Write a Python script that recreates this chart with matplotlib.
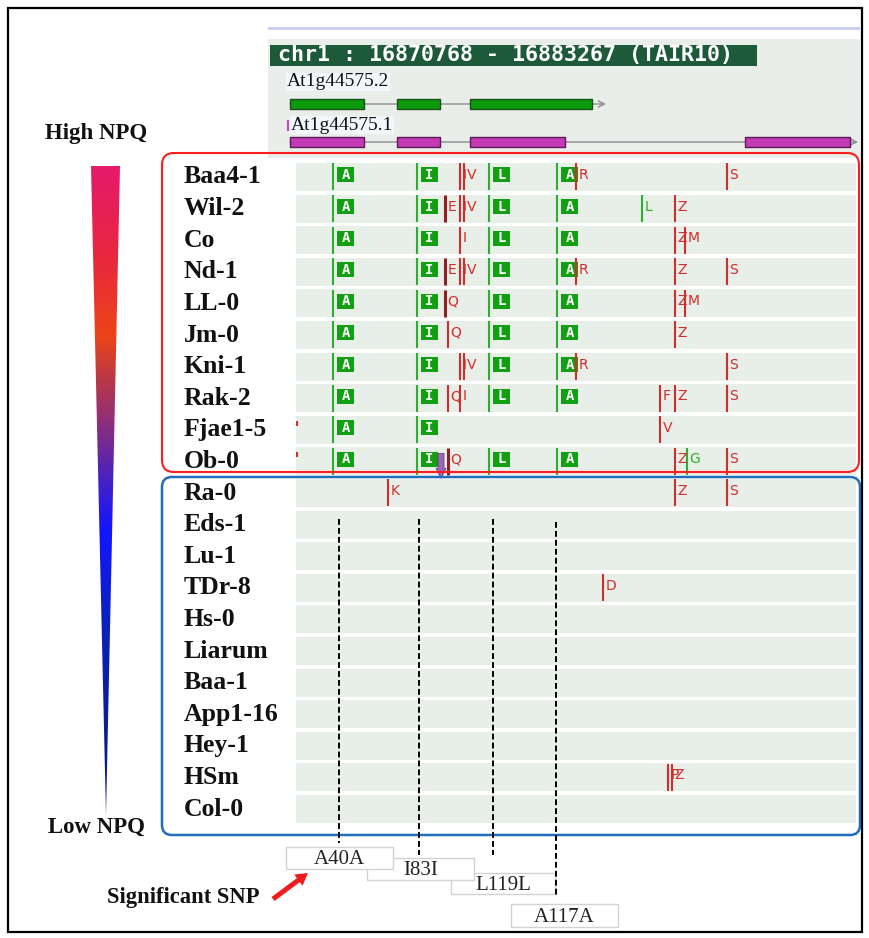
import numpy as np
import matplotlib
matplotlib.use("Agg")
import matplotlib.pyplot as plt
from matplotlib.patches import Rectangle, FancyBboxPatch, Polygon, FancyArrow
from matplotlib.colors import LinearSegmentedColormap
from matplotlib.transforms import offset_copy, blended_transform_factory

# ---------------- data ----------------
chrom = "chr1"
win_start, win_end = 16870768, 16883267
assembly = "TAIR10"

transcripts = ["At1g44575.2", "At1g44575.1"]
exons_t2 = [(16871192, 16872759), (16873458, 16874369), (16875005, 16877590)]
exons_t1 = [(16871192, 16872759), (16873458, 16874369), (16875005, 16877018),
            (16880831, 16883055)]
tx_end = [16877759, 16883098]

strains = ["Baa4-1", "Wil-2", "Co", "Nd-1", "LL-0", "Jm-0", "Kni-1", "Rak-2",
           "Fjae1-5", "Ob-0", "Ra-0", "Eds-1", "Lu-1", "TDr-8", "Hs-0", "Liarum",
           "Baa-1", "App1-16", "Hey-1", "HSm", "Col-0"]
n_high = 10  # first ten accessions: high NPQ group

# synonymous sites shown as boxed letters
syn_pos = [16872103, 16873882, 16875408, 16876848]
syn_code = ["A", "I", "L", "A"]
syn_carriers = [strains[:10], strains[:10],
                [s for s in strains[:10] if s != "Fjae1-5"],
                [s for s in strains[:10] if s != "Fjae1-5"]]

# other variants: strain, position, code, kind (r = nonsyn, d = splice/major, g = other)
var_strain = ["Baa4-1", "Baa4-1", "Baa4-1", "Baa4-1",
              "Wil-2", "Wil-2", "Wil-2", "Wil-2", "Wil-2",
              "Co", "Co", "Co",
              "Nd-1", "Nd-1", "Nd-1", "Nd-1", "Nd-1", "Nd-1",
              "LL-0", "LL-0", "LL-0",
              "Jm-0", "Jm-0",
              "Kni-1", "Kni-1", "Kni-1", "Kni-1",
              "Rak-2", "Rak-2", "Rak-2", "Rak-2", "Rak-2",
              "Fjae1-5", "Fjae1-5",
              "Ob-0", "Ob-0", "Ob-0", "Ob-0", "Ob-0",
              "Ra-0", "Ra-0", "Ra-0",
              "TDr-8",
              "HSm", "HSm"]
var_pos = [16874793, 16874878, 16877251, 16880450,
           16874475, 16874793, 16874878, 16878649, 16879348,
           16874793, 16879348, 16879560,
           16874475, 16874793, 16874878, 16877251, 16879348, 16880450,
           16874475, 16879348, 16879560,
           16874539, 16879348,
           16874793, 16874878, 16877251, 16880450,
           16874539, 16874793, 16879030, 16879348, 16880450,
           16871340, 16879030,
           16871340, 16874539, 16879348, 16879602, 16880450,
           16873268, 16879348, 16880450,
           16877823,
           16879200, 16879284]
var_code = ["I", "V", "R", "S",
            "E", "I", "V", "L", "Z",
            "I", "Z", "M",
            "E", "I", "V", "R", "Z", "S",
            "Q", "Z", "M",
            "Q", "Z",
            "I", "V", "R", "S",
            "Q", "I", "F", "Z", "S",
            "", "V",
            "", "Q", "Z", "G", "S",
            "K", "Z", "S",
            "D",
            "P", "Z"]
var_kind = ["r", "r", "r", "r",
            "d", "r", "r", "g", "r",
            "r", "r", "r",
            "d", "r", "r", "r", "r", "r",
            "d", "r", "r",
            "r", "r",
            "r", "r", "r", "r",
            "r", "r", "r", "r", "r",
            "e", "r",
            "e", "d", "r", "g", "r",
            "r", "r", "r",
            "r",
            "r", "r"]
indel_strain = ["Ob-0"]
indel_pos = [16874391]

sig_labels = ["A40A", "I83I", "L119L", "A117A"]
sig_pos = [16872230, 16873925, 16875492, 16876827]

# ---------------- layout ----------------
W, H = 869, 938
fig = plt.figure(figsize=(W / 100, H / 100), dpi=100)


def rect(x0, y0, x1, y1):
    return [x0 / W, 1 - y1 / H, (x1 - x0) / W, (y1 - y0) / H]


def px_axes(z):
    a = fig.add_axes([0, 0, 1, 1], zorder=z)
    a.set_xlim(0, W)
    a.set_ylim(H, 0)
    a.axis("off")
    a.patch.set_visible(False)
    return a


bg = px_axes(0)

PANEL_L, PANEL_R = 270, 860
bpp = (win_end - win_start) / (PANEL_R - PANEL_L)   # bp per pixel
ROW0, PITCH = 177.0, 31.6
nrow = len(strains)
row_px = 1.0 / PITCH

hx = fig.add_axes(rect(PANEL_L, 27, PANEL_R, 158), zorder=1)
hx.set_xlim(win_start, win_end)
hx.set_ylim(158, 27)
hx.axis("off")
hx.patch.set_visible(False)

tx = fig.add_axes(rect(PANEL_L, ROW0 - PITCH / 2, PANEL_R, ROW0 + (nrow - 0.5) * PITCH),
                  zorder=2)
tx.set_xlim(win_start, win_end)
tx.set_ylim(nrow - 0.5, -0.5)
tx.axis("off")
tx.patch.set_visible(False)

fg = px_axes(3)

ox = fig.add_axes([PANEL_L / W, 0, (PANEL_R - PANEL_L) / W, 1], zorder=4)
ox.set_xlim(win_start, win_end)
ox.set_ylim(H, 0)
ox.axis("off")
ox.patch.set_visible(False)

# ---------------- browser panel ----------------
bg.add_patch(Rectangle((268, 27), 592, 131, fc="#e9eeeb", ec="none"))
bg.add_patch(Rectangle((268, 27), 592, 3, fc="#c9d1ee", ec="none"))
bg.add_patch(Rectangle((268, 30), 592, 9, fc="white", ec="none"))
bg.add_patch(Rectangle((270, 45), 487, 21, fc="#1d5a3a", ec="none"))
bg.text(278, 55.5, f"{chrom} : {win_start} - {win_end} ({assembly})", color="white",
        family="DejaVu Sans Mono", weight="bold", fontsize=15.6, ha="left", va="center")

gene_y = [104, 142]
gene_fc = ["#0b9a0b", "#c43ab4"]
gene_ec = ["#1d4f1d", "#5e1a58"]
label_y = [82, 125]
for k, exons in enumerate([exons_t2, exons_t1]):
    y = gene_y[k]
    hx.annotate("", xy=(tx_end[k] + 6 * bpp, y), xytext=(exons[0][0], y),
                arrowprops=dict(arrowstyle="->", color="#8c8c8c", lw=1.0,
                                mutation_scale=11, shrinkA=0, shrinkB=0))
    hx.broken_barh([(s, e - s) for s, e in exons], (y - 5, 10),
                   facecolors=gene_fc[k], edgecolors=gene_ec[k], linewidth=1.0, zorder=3)
    hx.text(exons[0][0] - 3 * bpp + (4 * bpp if k else 0), label_y[k], transcripts[k],
            family="Liberation Serif", fontsize=14, ha="left", va="center", color="#111111",
            bbox=dict(boxstyle="square,pad=0.05", fc="#f3f6fa", ec="none"))
hx.plot([exons_t1[0][0] - 2 * bpp] * 2, [121, 130], color="#d040c0", lw=1.5)

# ---------------- tracks ----------------
track_l = win_start + 26 * bpp
track_r = win_end - 4 * bpp
for i in range(nrow):
    tx.add_patch(Rectangle((track_l, i - 14 * row_px), track_r - track_l, 28 * row_px,
                           fc="#e8efe8", ec="none", zorder=0))

red, dark, green, boxg = "#d42b2b", "#8e2222", "#2bb02b", "#12a012"
letter_tf = offset_copy(tx.transData, fig=fig, x=2.5, y=2, units="dots")
half = 13.5 * row_px

for p, code, carriers in zip(syn_pos, syn_code, syn_carriers):
    for s in carriers:
        r = strains.index(s)
        tx.vlines(p, r - half, r + half, color=green, lw=1.5, zorder=2)
        bx = p + 4 * bpp
        tx.add_patch(Rectangle((bx, r - 9.5 * row_px), 17 * bpp, 15 * row_px,
                               fc=boxg, ec="none", zorder=3))
        tx.text(bx + 8.5 * bpp, r - 2 * row_px, code, color="white",
                family="DejaVu Sans Mono", weight="bold", fontsize=10,
                ha="center", va="center", zorder=4)

for s, p, code, kind in zip(var_strain, var_pos, var_code, var_kind):
    r = strains.index(s)
    if kind == "e":
        tx.vlines(p, r - 9 * row_px, r - 4 * row_px, color=red, lw=1.5, zorder=5)
        continue
    col = {"r": red, "d": dark, "g": green}[kind]
    lw = 2.2 if kind == "d" else 1.5
    tx.vlines(p, r - half, r + half, color=col, lw=lw, zorder=5)
    tcol = green if kind == "g" else red
    tx.text(p, r, code, color=tcol, family="DejaVu Sans", fontsize=10,
            ha="left", va="center", transform=letter_tf, zorder=6)

for s, p in zip(indel_strain, indel_pos):
    r = strains.index(s)
    pts = [(p - 3 * bpp, r - 8 * row_px), (p + 3 * bpp, r - 8 * row_px),
           (p + 3 * bpp, r + 7 * row_px), (p + 5 * bpp, r + 7 * row_px),
           (p, r + 17 * row_px), (p - 5 * bpp, r + 7 * row_px),
           (p - 3 * bpp, r + 7 * row_px)]
    tx.add_patch(Polygon(pts, closed=True, fc="#8d4fa8", ec="#6a2f80", lw=0.6,
                         alpha=0.85, zorder=4, clip_on=False))

# strain names
name_tf = blended_transform_factory(fg.transData, tx.transData)
for i, s in enumerate(strains):
    fg.text(184, i, s, transform=name_tf, family="Liberation Serif", weight="bold",
            fontsize=18.5, ha="left", va="center", color="#111111")

# ---------------- NPQ gradient wedge ----------------
stops = [(0.00, "#e51a6b"), (0.14, "#e8283e"), (0.26, "#ec4418"), (0.33, "#b8384a"),
         (0.40, "#8a2e80"), (0.48, "#4a22c0"), (0.56, "#1414ff"), (0.70, "#0a22c0"),
         (0.85, "#0a1e9a"), (1.00, "#0a1a78")]
cmap = LinearSegmentedColormap.from_list("npq", stops)
grad = np.linspace(0, 1, 400).reshape(-1, 1)
im = bg.imshow(grad, extent=(91, 120, 815, 166), cmap=cmap, aspect="auto",
               origin="upper", interpolation="bilinear")
wedge = Polygon([(91, 166), (120, 166), (106, 815)], closed=True,
                transform=bg.transData, fc="none", ec="none")
bg.add_patch(wedge)
im.set_clip_path(wedge)
bg.set_xlim(0, W)
bg.set_ylim(H, 0)
bg.text(45, 133, "High NPQ", family="Liberation Serif", weight="bold", fontsize=16.5,
        ha="left", va="center", color="#111111")
bg.text(48, 827, "Low NPQ", family="Liberation Serif", weight="bold", fontsize=16.5,
        ha="left", va="center", color="#111111")

# ---------------- group frames ----------------
fg.add_patch(FancyBboxPatch((162, 153), 697, 319, boxstyle="round,pad=0,rounding_size=12",
                            fc="none", ec="#ff1d1d", lw=1.5))
fg.add_patch(FancyBboxPatch((162, 477), 698, 358, boxstyle="round,pad=0,rounding_size=10",
                            fc="none", ec="#1f6fbd", lw=1.8))
fg.add_patch(Rectangle((8, 8), 854, 924, fc="none", ec="black", lw=1.6))

# ---------------- significant SNP labels ----------------
box_xy = [(286, 847, 393, 869), (367, 858, 474, 880), (451, 873, 555, 894),
          (511, 904, 618, 927)]
dash_top = [519, 519, 519, 522]
dash_bot = [843, 855, 855, 895]
for k in [3, 2, 1, 0]:
    x0, y0, x1, y1 = box_xy[k]
    fg.add_patch(Rectangle((x0, y0), x1 - x0, y1 - y0, fc="white", ec="#d2d2d2", lw=1.0))
    fg.text((x0 + x1) / 2, (y0 + y1) / 2 + 1.5, sig_labels[k], family="Liberation Serif",
            fontsize=15, ha="center", va="center", color="#222222")
for k, p in enumerate(sig_pos):
    ox.plot([p, p], [dash_top[k], dash_bot[k]], color="black", lw=1.4,
            linestyle=(0, (3, 1.6)))

fg.text(107, 897, "Significant SNP", family="Liberation Serif", weight="bold",
        fontsize=16.3, ha="left", va="center", color="#111111")
fg.add_patch(FancyArrow(273, 899, 35, -26, width=5, head_width=14, head_length=12,
                        length_includes_head=True, fc="#ee1c1c", ec="none"))

fig.savefig("out.png", dpi=100)
